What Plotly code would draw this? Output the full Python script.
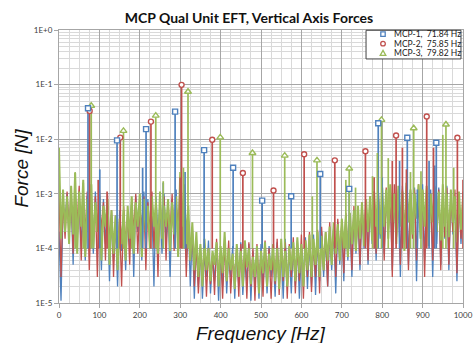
import plotly.graph_objects as go

# ---------------------------------------------------------------- data
# Broadband noise floor, sampled every 5 Hz from 0 to 1000 Hz  [N]
noise_freq = list(range(0, 1001, 5))

mcp1_noise = [
    2e-4, 1.1e-5, 6e-4, 3e-4, 1e-3,
    1.5e-4, 9e-4, 5e-5, 1.3e-3, 2e-4, 7e-4, 1e-4, 1.2e-3, 6e-5, 9e-4, 1.5e-4, 6e-4,
    8e-5, 1.1e-3, 2e-4, 5e-4, 4e-5, 8e-4, 1.2e-4, 6e-4, 2.5e-5, 4e-4,
    6e-5, 3e-4, 2e-5, 5e-4, 9e-5, 3e-4, 4e-5, 5e-4,
    1e-4, 7e-4, 3e-5, 9e-4, 2e-4, 5e-4, 6e-5, 1.1e-3, 1.5e-4, 8e-4,
    1e-4, 6e-4, 2e-5, 9e-4, 1.8e-4, 7e-4, 8e-5, 1e-3, 1.2e-4, 6e-4,
    3e-5, 8e-4, 1.5e-4, 1.2e-3, 7e-5, 9e-4, 2e-4, 7e-4,
    6e-5, 4e-4, 2e-5, 2e-4, 1.2e-5, 1.5e-4,
    2e-5, 1.1e-4, 1.2e-5, 8e-5, 3e-5, 1.4e-4, 1.5e-5, 7e-5, 2.5e-5, 1.2e-4,
    1.1e-5, 9e-5, 2e-5, 1.6e-4, 1.5e-5, 8e-5, 3e-5, 1.1e-4, 1.2e-5, 1e-4,
    2e-5, 1.3e-4, 1.4e-5, 7e-5, 2.5e-5, 1.2e-4, 1.1e-5, 9e-5, 2e-5, 8e-5,
    1.2e-5, 1.2e-4, 2e-5, 9e-5, 1.5e-5, 1.1e-4, 3e-5, 8e-5, 1.3e-5, 1.3e-4,
    2e-5, 1e-4, 1.2e-5, 1.5e-4, 2.5e-5, 9e-5, 1.5e-5, 1.2e-4, 2e-5, 1.4e-4,
    1.2e-5, 1.1e-4, 3e-5, 1.6e-4, 1.8e-5, 1.3e-4, 2e-5, 1.8e-4, 1.4e-5, 1.5e-4,
    2.5e-5, 2e-4,
    3e-5, 1.6e-4, 2e-5, 2.2e-4, 4e-5, 2.5e-4, 1.5e-5, 3e-4, 5e-5, 2.8e-4,
    2.5e-5, 4e-4, 6e-5, 3.5e-4, 3e-5, 5e-4, 8e-5, 4.5e-4, 4e-5, 6e-4,
    1e-4, 7e-4, 5e-5, 8e-4, 1.2e-4, 9e-4, 6e-5, 1e-3, 1.5e-4, 1.1e-3,
    8e-5, 1e-3, 2e-4, 1.3e-3, 4e-5, 9e-4, 1.5e-4, 1.2e-3, 3e-5, 1.4e-3,
    1.2e-4, 9e-4, 5e-5, 1.1e-3, 2e-4, 1.3e-3, 2.5e-5, 8e-4, 1.5e-4, 1.5e-3,
    6e-5, 1e-3, 2e-4, 1.2e-3, 3e-5, 9e-4, 1.2e-4, 1.3e-3, 5e-5, 1e-3,
    1.5e-4, 1.4e-3, 4e-5, 1.1e-3, 1.8e-4, 8e-4, 2.5e-5, 1e-3, 1.2e-4, 6e-4,
]

mcp2_noise = [
    1.2e-3, 3e-5, 8e-4, 1.5e-4, 1.1e-3,
    2e-4, 1.2e-3, 8e-5, 9e-4, 3e-4, 1.4e-3, 6e-5, 8e-4, 2e-4, 1.1e-3, 4e-5, 7e-4,
    1.5e-4, 9e-4, 3e-5, 1.2e-3, 2e-4, 7e-4, 6e-5, 1e-3, 1.2e-4, 5e-4,
    3e-5, 4e-4, 1e-4, 3e-4, 2e-5, 6e-4, 1.2e-4, 4e-4,
    5e-5, 8e-4, 2e-4, 1e-3, 8e-5, 6e-4, 2.5e-4, 9e-4, 4e-5, 7e-4,
    2e-4, 1.1e-3, 1e-4, 6e-4, 3e-5, 8e-4, 2.2e-4, 9e-4, 6e-5, 7e-4,
    2e-4, 1e-3, 9e-5, 6e-4, 3e-4, 1.5e-3, 1e-4, 9e-4,
    3e-5, 3e-4, 6e-5, 2.5e-4, 2e-5, 1.2e-4,
    1.5e-5, 9e-5, 3e-5, 1.2e-4, 1.3e-5, 1e-4, 2.2e-5, 8e-5, 1.4e-5, 1.5e-4,
    3e-5, 9e-5, 1.2e-5, 1.2e-4, 2.5e-5, 1.4e-4, 1.5e-5, 7e-5, 3e-5, 1.1e-4,
    1.3e-5, 1.2e-4, 2.5e-5, 9e-5, 1.2e-5, 1.3e-4, 2e-5, 1e-4, 1.1e-5, 1.2e-4,
    2.5e-5, 8e-5, 1.3e-5, 1.4e-4, 3e-5, 1e-4, 1.2e-5, 9e-5, 2.2e-5, 1.5e-4,
    1.4e-5, 1.1e-4, 2.5e-5, 1.3e-4, 1.2e-5, 1.2e-4, 3e-5, 1.6e-4, 1.5e-5, 1.1e-4,
    2.5e-5, 1.8e-4, 1.2e-5, 1.4e-4, 3e-5, 2e-4, 1.6e-5, 1.3e-4, 3e-5, 2.2e-4,
    1.5e-5, 2.5e-4,
    4e-5, 2e-4, 2e-5, 3e-4, 6e-5, 2.4e-4, 3e-5, 3.5e-4, 7e-5, 3e-4,
    3.5e-5, 4.5e-4, 8e-5, 4e-4, 4e-5, 6e-4, 1e-4, 5e-4, 5e-5, 7e-4,
    1.2e-4, 8e-4, 6e-5, 9e-4, 1.5e-4, 1.1e-3, 8e-5, 1.2e-3, 2e-4, 1e-3,
    6e-5, 1.3e-3, 2e-4, 1.1e-3, 3e-5, 1.5e-3, 1.5e-4, 1e-3, 5e-5, 1.2e-3,
    2e-4, 1.4e-3, 4e-5, 1e-3, 1.5e-4, 1.2e-3, 6e-5, 1.5e-3, 2e-4, 1.1e-3,
    3e-5, 1.3e-3, 1.5e-4, 1e-3, 6e-5, 1.4e-3, 2e-4, 1.2e-3, 4e-5, 9e-4,
    1.6e-4, 1.3e-3, 5e-5, 1e-3, 2e-4, 1.2e-3, 3.5e-5, 9e-4, 1.5e-4, 1.1e-3,
]

mcp3_noise = [
    7e-3, 1.5e-4, 1.2e-3, 2e-4, 9e-4,
    1.2e-4, 1.4e-3, 1.8e-4, 2.4e-3, 8e-5, 1.1e-3, 2.5e-4, 1.8e-3, 7e-5, 8e-4, 1.5e-4, 1.5e-3,
    1e-4, 7e-4, 2e-4, 9e-4, 6e-5, 6e-4, 2.5e-4, 8e-4, 5e-5, 5e-4,
    8e-5, 4e-4, 4e-5, 3.5e-4, 1.2e-4, 5e-4, 6e-5, 6e-4,
    1.5e-4, 9e-4, 8e-5, 7e-4, 2.5e-4, 1e-3, 7e-5, 8e-4, 2e-4, 6e-4,
    1e-4, 9e-4, 2.5e-4, 7e-4, 8e-5, 1.1e-3, 1.5e-4, 6e-4, 2.5e-4, 8e-4,
    9e-5, 7e-4, 1.8e-4, 9e-4, 7e-5, 2.5e-3, 2.5e-4, 1.5e-3,
    1.2e-4, 6e-4, 6e-5, 3e-4, 4e-5, 2e-4,
    3e-5, 1.2e-4, 2e-5, 1.5e-4, 4e-5, 1e-4, 2.5e-5, 9e-5, 5e-5, 1.3e-4,
    2e-5, 1.1e-4, 3.5e-5, 2e-4, 2.5e-5, 1e-4, 4e-5, 8e-5, 1.8e-5, 1.2e-4,
    3e-5, 9e-5, 2e-5, 1.4e-4, 4.5e-5, 1e-4, 2.2e-5, 7e-5, 3e-5, 1.1e-4,
    1.5e-5, 9e-5, 3.5e-5, 1.3e-4, 2e-5, 8e-5, 4e-5, 1.2e-4, 2.5e-5, 1e-4,
    1.8e-5, 1.5e-4, 3e-5, 9e-5, 2e-5, 1.1e-4, 4e-5, 1.3e-4, 2.5e-5, 1.6e-4,
    3.5e-5, 1.2e-4, 2e-5, 1.4e-4, 4e-5, 1.8e-4, 3e-5, 1.5e-4, 5e-5, 2e-4,
    3e-5, 1.7e-4,
    4e-5, 2e-4, 6e-5, 2.5e-4, 5e-5, 3e-4, 8e-5, 2.8e-4, 6e-5, 3.5e-4,
    1e-4, 4e-4, 7e-5, 4.5e-4, 1.2e-4, 5e-4, 9e-5, 6e-4, 1.5e-4, 7e-4,
    1.1e-4, 8e-4, 2e-4, 9e-4, 1.4e-4, 1.1e-3, 2.5e-4, 1e-3, 1.8e-4, 1.3e-3,
    2.5e-4, 1.2e-3, 1.5e-4, 1.5e-3, 3e-4, 1e-3, 1.2e-4, 1.4e-3, 2.5e-4, 1.1e-3,
    9e-5, 1.6e-3, 3e-4, 1.2e-3, 1.8e-4, 1e-3, 3.5e-4, 1.5e-3, 1.5e-4, 1.2e-3,
    2.5e-4, 1.4e-3, 1.1e-4, 1e-3, 3e-4, 1.3e-3, 2e-4, 1.1e-3, 1.4e-4, 1.5e-3,
    2.5e-4, 1e-3, 1.6e-4, 1.2e-3, 3e-4, 9e-4, 1.3e-4, 1.1e-3, 2.2e-4, 8e-4,
]

# Harmonic peaks (marked)
mcp1_peak_freq = [71.8, 143.7, 215.5, 287.4, 359.2, 431.0, 502.9, 574.7, 646.6, 718.4, 790.2, 862.1, 933.9]
mcp1_peak_val = [0.037, 0.0095, 0.0153, 0.032, 0.0063, 0.0030, 0.00075, 0.00090, 0.0023, 0.00123, 0.0196, 0.0106, 0.0086]

mcp2_peak_freq = [75.85, 151.7, 227.6, 303.4, 379.3, 455.1, 531.0, 606.8, 682.7, 758.5, 834.4, 910.2, 986.1]
mcp2_peak_val = [0.033, 0.0107, 0.021, 0.099, 0.0098, 0.0024, 0.00115, 0.0053, 0.0041, 0.0060, 0.0117, 0.026, 0.0106]

mcp3_peak_freq = [79.8, 159.6, 239.5, 319.3, 399.1, 478.9, 558.7, 638.6, 718.4, 798.2, 878.0, 957.8]
mcp3_peak_val = [0.041, 0.0142, 0.027, 0.074, 0.0108, 0.0056, 0.0050, 0.0041, 0.0029, 0.0226, 0.0159, 0.0186]

# Other discrete lines (unmarked)
mcp1_line_freq = [101, 207, 258, 312, 800, 843, 887, 916, 930]
mcp1_line_val = [2.8e-3, 3e-3, 1.6e-3, 2.5e-3, 2e-3, 4e-3, 1.2e-3, 4e-3, 3.3e-3]
mcp2_line_freq = [97, 119, 300, 780, 825, 850, 860, 927, 1000]
mcp2_line_val = [1.8e-3, 1.1e-3, 2e-3, 2e-3, 4e-3, 7e-3, 2.8e-3, 7e-3, 1.8e-3]
mcp3_line_freq = [40, 60, 180, 258, 308, 627, 710, 734, 776, 788, 815, 870, 896, 950, 977]
mcp3_line_val = [2.5e-3, 1.6e-3, 6e-4, 1.7e-3, 3e-3, 9e-4, 1.8e-3, 1.3e-3, 2.1e-3, 5.6e-3, 4.5e-3, 2.5e-3, 2.6e-3, 1.2e-2, 3e-3]

series_names = ["MCP-1,  71.84 Hz", "MCP-2,  75.85 Hz", "MCP-3,  79.82 Hz"]
x_ticks = list(range(0, 1001, 100))
y_ticks = [1e-5, 1e-4, 1e-3, 1e-2, 1e-1, 1e0]
y_tick_text = ["1E-5", "1E-4", "1E-3", "1E-2", "1E-1", "1E+0"]

for arr in (mcp1_noise, mcp2_noise, mcp3_noise):
    assert len(arr) == len(noise_freq), len(arr)

# ---------------------------------------------------------------- style
BLUE, RED, GREEN = "#4F81BD", "#C0504D", "#9BBB59"
STEM_BASE = 1e-4
TICK_FONT = dict(family="Lato, Liberation Sans, sans-serif", size=8, color="#404040")
AXIS_TITLE_FONT = dict(family="Liberation Sans, Arial, sans-serif", size=19, color="#111111")


def stems(freqs, vals):
    xs, ys = [], []
    for f, v in zip(freqs, vals):
        xs += [f, f, None]
        ys += [STEM_BASE, v, None]
    return xs, ys


fig = go.Figure()

# noise floors
for vals, color, width in ((mcp1_noise, BLUE, 1.3), (mcp2_noise, RED, 1.3), (mcp3_noise, GREEN, 2.0)):
    fig.add_trace(go.Scatter(x=noise_freq, y=vals, mode="lines",
                             line=dict(color=color, width=width),
                             showlegend=False, hoverinfo="skip"))

# discrete lines and harmonic stems
for pf, pv, lf, lv, color in (
    (mcp1_peak_freq, mcp1_peak_val, mcp1_line_freq, mcp1_line_val, BLUE),
    (mcp2_peak_freq, mcp2_peak_val, mcp2_line_freq, mcp2_line_val, RED),
    (mcp3_peak_freq, mcp3_peak_val, mcp3_line_freq, mcp3_line_val, GREEN),
):
    xs, ys = stems(pf + lf, pv + lv)
    fig.add_trace(go.Scatter(x=xs, y=ys, mode="lines",
                             line=dict(color=color, width=1.7),
                             showlegend=False, hoverinfo="skip"))

# peak markers
marker_specs = [
    (mcp2_peak_freq, mcp2_peak_val, RED, "circle", 5),
    (mcp3_peak_freq, mcp3_peak_val, GREEN, "triangle-up", 6),
    (mcp1_peak_freq, mcp1_peak_val, BLUE, "square", 5),
]
for pf, pv, color, sym, size in marker_specs:
    fig.add_trace(go.Scatter(x=pf, y=pv, mode="markers",
                             marker=dict(symbol=sym, size=size, color="white",
                                         line=dict(color=color, width=1.4)),
                             showlegend=False, hoverinfo="skip"))

# ---------------------------------------------------------------- legend box
legend_rows = [0.985, 0.950, 0.915]
LEG_MARK_X = 0.802
shapes = [dict(type="rect", xref="paper", yref="paper", x0=0.760, x1=0.995, y0=0.894, y1=0.999,
               fillcolor="white", line=dict(color="#404040", width=1), layer="above")]
glyph_common = dict(xref="paper", yref="paper", xsizemode="pixel", ysizemode="pixel",
                    xanchor=LEG_MARK_X, fillcolor="white", layer="above")
shapes.append(dict(type="rect", yanchor=legend_rows[0], x0=-2.2, x1=2.2, y0=-2.2, y1=2.2,
                   line=dict(color=BLUE, width=1.3), **glyph_common))
shapes.append(dict(type="circle", yanchor=legend_rows[1], x0=-2.3, x1=2.3, y0=-2.3, y1=2.3,
                   line=dict(color=RED, width=1.3), **glyph_common))
shapes.append(dict(type="path", yanchor=legend_rows[2], path="M-2.8,-2.2 L2.8,-2.2 L0,2.8 Z",
                   line=dict(color=GREEN, width=1.3), **glyph_common))

annotations = [
    dict(text=name, x=0.824, y=yr, xref="paper", yref="paper", xanchor="left", yanchor="middle",
         showarrow=False, font=dict(family="Lato, Liberation Sans, sans-serif", size=8.5, color="#1a1a1a"))
    for name, yr in zip(series_names, legend_rows)
]
annotations += [
    dict(text="<i>Frequency [Hz]</i>", x=0.5, y=-0.11, xref="paper", yref="paper",
         xanchor="center", yanchor="middle", showarrow=False, font=AXIS_TITLE_FONT),
    dict(text="<i>Force [N]</i>", x=-0.093, y=0.494, xref="paper", yref="paper", textangle=-90,
         xanchor="center", yanchor="middle", showarrow=False, font=AXIS_TITLE_FONT),
]

minor_y = [m * 10.0 ** e for e in range(-5, 0) for m in range(2, 10)]

fig.update_layout(
    width=474, height=343,
    margin=dict(l=59, r=11, t=30, b=40, autoexpand=False),
    paper_bgcolor="white", plot_bgcolor="white",
    showlegend=False,
    title=dict(text="<b>MCP Qual Unit EFT, Vertical Axis Forces</b>",
               x=249 / 474, xanchor="center", y=1 - 18 / 343, yanchor="middle",
               font=dict(family="Lato, Liberation Sans, sans-serif", size=14, color="#111111")),
    shapes=shapes,
    xaxis=dict(range=[0, 1000], tickmode="array", tickvals=x_ticks, automargin=False,
               ticks="outside", ticklen=4, tickcolor="#a6a6a6",
               showgrid=True, gridcolor="#a6a6a6", gridwidth=1,
               minor=dict(dtick=25, tick0=0, showgrid=True, gridcolor="#d9d9d9", ticks=""),
               showline=True, linecolor="#a6a6a6", mirror=True, zeroline=False,
               tickfont=TICK_FONT, fixedrange=True),
    yaxis=dict(type="log", range=[-5, 0], tickmode="array", tickvals=y_ticks, ticktext=y_tick_text,
               automargin=False, ticks="outside", ticklen=4, tickcolor="#a6a6a6",
               showgrid=True, gridcolor="#a6a6a6", gridwidth=1,
               minor=dict(tickmode="array", tickvals=minor_y, showgrid=True,
                          gridcolor="#d9d9d9", ticks=""),
               showline=True, linecolor="#a6a6a6", mirror=True, zeroline=False,
               tickfont=TICK_FONT, fixedrange=True),
    annotations=annotations,
)

fig.write_html("out.html")
